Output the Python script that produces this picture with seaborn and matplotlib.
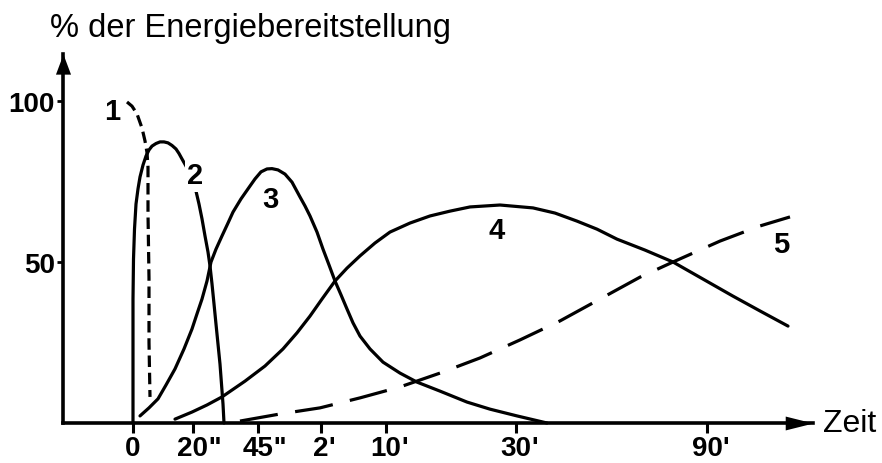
import matplotlib
matplotlib.use("Agg")
import matplotlib.pyplot as plt
import seaborn as sns

# Schematic time axis: tick positions and their labels (number + unit mark)
tick_pos = [0, 60, 125, 188, 253, 383, 574]
tick_num = ["0", "20", "45", "2", "10", "30", "90"]
tick_unit = ["", "''", "''", "'", "'", "'", "'"]

y_ticks = [50, 100]
y_tick_labels = ["50", "100"]

# Share of energy supply (%) for the five supply pathways
c1_x = [-6, -1, 4, 9, 12, 14, 15, 15, 16, 16, 17]
c1_y = [99.7, 98.4, 96.0, 91.6, 87.6, 84.0, 79.5, 65.0, 45.0, 25.0, 8.1]

c2_x = [0, 0, 0, 0, 0.5, 1.5, 3, 5, 7, 10, 13, 16, 19, 23, 27, 31, 35, 39, 43,
        46, 49, 53, 57, 60, 63, 66, 69, 72, 75, 77, 79, 81, 83, 85, 87, 88.5,
        90, 91]
c2_y = [0, 13.7, 26.1, 38.5, 50.9, 60.2, 68.0, 72.7, 76.4, 80.1, 82.9, 84.8,
        86.0, 86.8, 87.3, 87.3, 87.0, 86.2, 85.1, 83.7, 82.0, 79.8, 77.3, 74.8,
        72.0, 68.0, 63.4, 58.1, 53.1, 48.8, 43.2, 37.0, 30.7, 24.5, 18.3, 12.1,
        5.9, 0]

c3_x = [7, 16, 25, 33, 42, 51, 59, 64, 69, 74, 78, 83, 89, 95, 100, 108, 117,
        122, 128, 134, 139, 145, 152, 159, 167, 172, 177, 184, 190, 196, 202,
        208, 214, 220, 227, 237, 250, 267, 284, 307, 334, 357, 384, 414]
c3_y = [2.2, 4.7, 7.5, 11.8, 16.8, 23.0, 29.2, 33.9, 38.5, 44.1, 50.0, 54.0,
        58.1, 62.1, 65.5, 69.6, 73.6, 75.8, 78.0, 78.9, 79.0, 78.6, 77.3, 74.8,
        70.2, 67.4, 64.3, 59.3, 54.0, 49.1, 44.1, 39.8, 35.4, 31.1, 27.0, 23.0,
        18.9, 15.5, 12.7, 9.9, 6.5, 4.3, 2.2, 0]

c4_x = [42, 59, 74, 89, 112, 132, 150, 164, 177, 189, 202, 214, 227, 242, 257,
        277, 297, 317, 337, 367, 400, 422, 444, 464, 484, 512, 540, 570, 600,
        627, 655]
c4_y = [1.2, 3.4, 5.6, 8.1, 13.0, 17.7, 23.0, 28.0, 33.2, 38.5, 44.1, 48.1,
        51.9, 55.9, 59.3, 62.1, 64.3, 65.8, 67.1, 67.7, 66.8, 65.2, 62.7, 60.2,
        57.1, 53.7, 50.0, 44.7, 39.4, 34.8, 30.1]

c5_x = [107, 147, 187, 227, 267, 307, 347, 387, 427, 467, 507, 540, 587, 627, 657]
c5_y = [0.6, 2.8, 4.7, 7.8, 11.2, 15.5, 20.2, 25.8, 31.7, 38.5, 45.3, 50.0,
        56.5, 61.2, 64.0]

curve_labels = ["1", "2", "3", "4", "5"]
label_x = [-21, 62.5, 137.5, 363.5, 648]
label_y = [96.9, 77.0, 69.6, 59.9, 55.7]

sns.set_theme(style="white")
plt.rcParams["font.family"] = ["Liberation Sans", "DejaVu Sans"]

fig = plt.figure(figsize=(8.82, 4.64), dpi=100)
ax = fig.add_axes([63 / 882, 40 / 464, 750 / 882, 369 / 464])
ax.set_xlim(-70, 680)
ax.set_ylim(0, 114.6)

lw = 2.3
curves = [
    (c1_x, c1_y, (0, (3.6, 1.8))),
    (c2_x, c2_y, "-"),
    (c3_x, c3_y, "-"),
    (c4_x, c4_y, "-"),
    (c5_x, c5_y, (0, (12, 5.5))),
]
for xs, ys, ls in curves:
    sns.lineplot(x=xs, y=ys, ax=ax, color="black", lw=lw, linestyle=ls,
                 estimator=None, sort=False, clip_on=False,
                 solid_joinstyle="round")

for txt, lx, ly in zip(curve_labels, label_x, label_y):
    t = ax.text(lx, ly, txt, ha="center", va="center", fontsize=21,
                fontweight="bold", color="black", zorder=5)
    if txt == "2":
        t.set_bbox(dict(facecolor="white", edgecolor="none", pad=2))

# axes with arrow heads
for side in ["top", "right"]:
    ax.spines[side].set_visible(False)
for side in ["left", "bottom"]:
    ax.spines[side].set_linewidth(2.6)
    ax.spines[side].set_color("black")

arrow_right = [(0, 0), (-4, 1), (-4, -1), (0, 0)]
arrow_up = [(0, 0), (-1.5, -4), (1.5, -4), (0, 0)]
ax.plot([1], [0], marker=arrow_right, ms=40, color="black", mew=0,
        transform=ax.transAxes, clip_on=False)
ax.plot([0], [1], marker=arrow_up, ms=29, color="black", mew=0,
        transform=ax.transAxes, clip_on=False)

ax.set_xticks(tick_pos)
ax.set_xticklabels(tick_num, fontsize=20, fontweight="bold")
ax.set_yticks(y_ticks)
ax.set_yticklabels(y_tick_labels, fontsize=20, fontweight="bold")
ax.tick_params(axis="x", direction="out", length=7, width=2.2, pad=1.5,
               colors="black", bottom=True)
ax.tick_params(axis="y", direction="out", length=4.3, width=2.0, pad=1.5,
               colors="black", left=True)
ax.set_xlabel("")
ax.set_ylabel("")
ax.grid(False)

fig.canvas.draw()
for lbl, unit in zip(ax.get_xticklabels(), tick_unit):
    if unit:
        ax.annotate(unit, xy=(1, 0), xycoords=lbl, ha="left", va="bottom",
                    fontsize=20, fontweight="bold", color="black",
                    annotation_clip=False)

fig.text(50 / 882, 1 - 37 / 464, "% der Energiebereitstellung", fontsize=23.5,
         va="baseline", ha="left", color="black")
fig.text(823 / 882, 1 - 432 / 464, "Zeit", fontsize=23, va="baseline",
         ha="left", color="black")

fig.savefig("out.png", dpi=100, facecolor="white")
